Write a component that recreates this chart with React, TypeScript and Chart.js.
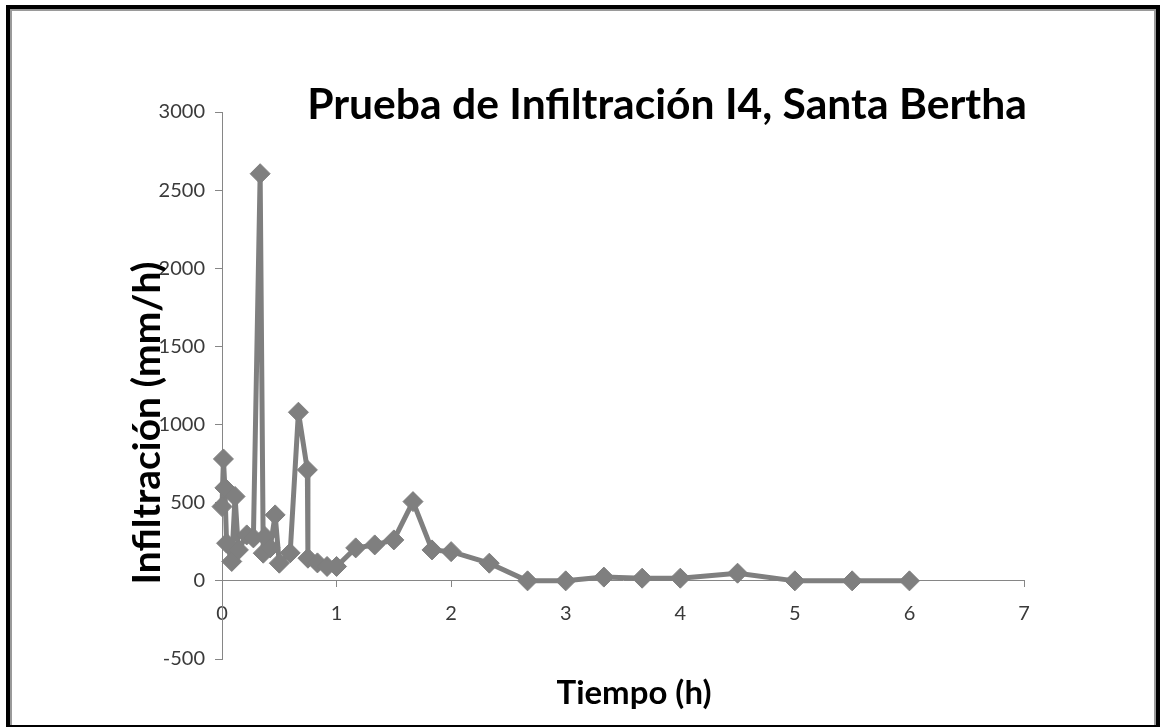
import React, { useEffect, useRef } from "react";
import { Chart, registerables } from "chart.js";

Chart.register(...registerables);

// Tiempo (h)
const timeH: number[] = [
  0.0, 0.0125, 0.025, 0.04, 0.085, 0.114, 0.143, 0.216, 0.274, 0.333, 0.36, 0.376,
  0.42, 0.464, 0.5, 0.595, 0.667, 0.745, 0.75, 0.833, 0.917, 1.0, 1.167, 1.333,
  1.5, 1.667, 1.833, 2.0, 2.333, 2.667, 3.0, 3.333, 3.667, 4.0, 4.5, 5.0, 5.5, 6.0,
];
// Infiltración (mm/h)
const infiltration: number[] = [
  475, 780, 595, 241, 124, 540, 198, 294, 275, 2605, 177, 283,
  211, 422, 113, 179, 1079, 710, 145, 115, 92, 92, 211, 230,
  262, 507, 198, 187, 113, 0, 0, 24, 17, 17, 49, 0, 0, 0,
];

const TITLE = "Prueba de Infiltración I4, Santa Bertha";
const X_TITLE = "Tiempo (h)";
const Y_TITLE = "Infiltración (mm/h)";

const X_MIN = 0;
const X_MAX = 7;
const X_STEP = 1;
const Y_MIN = -500;
const Y_MAX = 3000;
const Y_STEP = 500;

const FAMILY = "Lato, 'Open Sans', sans-serif";
const SERIES_COLOR = "#7f7f7f";
const AXIS_COLOR = "#868686";
const TICK_COLOR = "#3a3a3a";

function fitFont(ctx: CanvasRenderingContext2D, text: string, target: number, weight: string) {
  ctx.font = `${weight} 100px ${FAMILY}`;
  const w = ctx.measureText(text).width;
  const size = (100 * target) / w;
  return `${weight} ${size.toFixed(2)}px ${FAMILY}`;
}

const decorPlugin = {
  id: "decor",
  beforeDraw(chart: any) {
    const ctx: CanvasRenderingContext2D = chart.ctx;
    const W = chart.width;
    const H = chart.height;
    ctx.save();
    ctx.fillStyle = "#ffffff";
    ctx.fillRect(0, 0, W, H);
    // outer black frame
    ctx.fillStyle = "#000000";
    ctx.fillRect(6, 5, W - 6, 4); // top
    ctx.fillRect(6, 5, 4, H - 5); // left
    ctx.fillRect(W - 4, 5, 4, H - 5); // right
    ctx.fillRect(6, H - 2, W - 6, 2); // bottom
    // inner gray line
    ctx.fillStyle = "#9a9a9a";
    ctx.fillRect(10, 9, W - 16, 2);
    ctx.fillRect(10, 9, 2, H - 11);
    ctx.fillRect(W - 6, 9, 2, H - 11);
    ctx.restore();
  },
  afterDraw(chart: any) {
    const ctx: CanvasRenderingContext2D = chart.ctx;
    ctx.save();
    ctx.fillStyle = "#000000";
    // main title
    ctx.font = fitFont(ctx, TITLE, 720, "bold");
    ctx.textAlign = "center";
    ctx.textBaseline = "alphabetic";
    ctx.fillText(TITLE, 667, 119);
    // x title
    ctx.font = fitFont(ctx, X_TITLE, 155, "bold");
    ctx.fillText(X_TITLE, 634, 704);
    // y title
    ctx.translate(160, 423);
    ctx.rotate(-Math.PI / 2);
    ctx.font = fitFont(ctx, Y_TITLE, 323, "bold");
    ctx.fillText(Y_TITLE, 0, 0);
    ctx.restore();
  },
};

export default function App() {
  const ref = useRef<HTMLCanvasElement | null>(null);

  useEffect(() => {
    document.body.style.margin = "0";
    const canvas = ref.current;
    if (!canvas) return;
    const chart = new Chart(canvas, {
      type: "scatter",
      data: {
        datasets: [
          {
            data: timeH.map((t, i) => ({ x: t, y: infiltration[i] })),
            showLine: true,
            borderColor: SERIES_COLOR,
            backgroundColor: SERIES_COLOR,
            borderWidth: 5,
            borderJoinStyle: "round",
            borderCapStyle: "round",
            tension: 0,
            pointStyle: "rectRot",
            pointRadius: 10,
            pointBorderWidth: 1,
            pointBorderColor: SERIES_COLOR,
            pointBackgroundColor: SERIES_COLOR,
            clip: false,
          } as any,
        ],
      },
      options: {
        animation: false,
        responsive: false,
        maintainAspectRatio: false,
        devicePixelRatio: 1,
        events: [],
        layout: {
          padding: { left: 0, top: 112, right: 136, bottom: 68 },
          autoPadding: false,
        },
        plugins: {
          legend: { display: false },
          tooltip: { enabled: false },
          title: { display: false },
        },
        scales: {
          x: {
            type: "linear",
            min: X_MIN,
            max: X_MAX,
            position: { y: 0 } as any,
            ticks: {
              stepSize: X_STEP,
              padding: 15,
              color: TICK_COLOR,
              font: { family: FAMILY, size: 20 },
              callback: (v: any) => String(v),
            },
            grid: { drawOnChartArea: false, tickLength: 6, color: AXIS_COLOR },
            border: { color: AXIS_COLOR, width: 1 },
            afterFit: (s: any) => {
              s.height = 0;
            },
          },
          y: {
            type: "linear",
            min: Y_MIN,
            max: Y_MAX,
            position: "left",
            ticks: {
              stepSize: Y_STEP,
              padding: 10,
              color: TICK_COLOR,
              font: { family: FAMILY, size: 20 },
              callback: (v: any) => String(v),
            },
            grid: { drawOnChartArea: false, tickLength: 7, color: AXIS_COLOR },
            border: { color: AXIS_COLOR, width: 1 },
            afterFit: (s: any) => {
              s.width = 222;
            },
          },
        },
      } as any,
      plugins: [decorPlugin],
    });
    return () => chart.destroy();
  }, []);

  return (
    <div style={{ width: 1160, height: 727, position: "relative" }}>
      <canvas ref={ref} width={1160} height={727} style={{ display: "block", width: 1160, height: 727 }} />
    </div>
  );
}
